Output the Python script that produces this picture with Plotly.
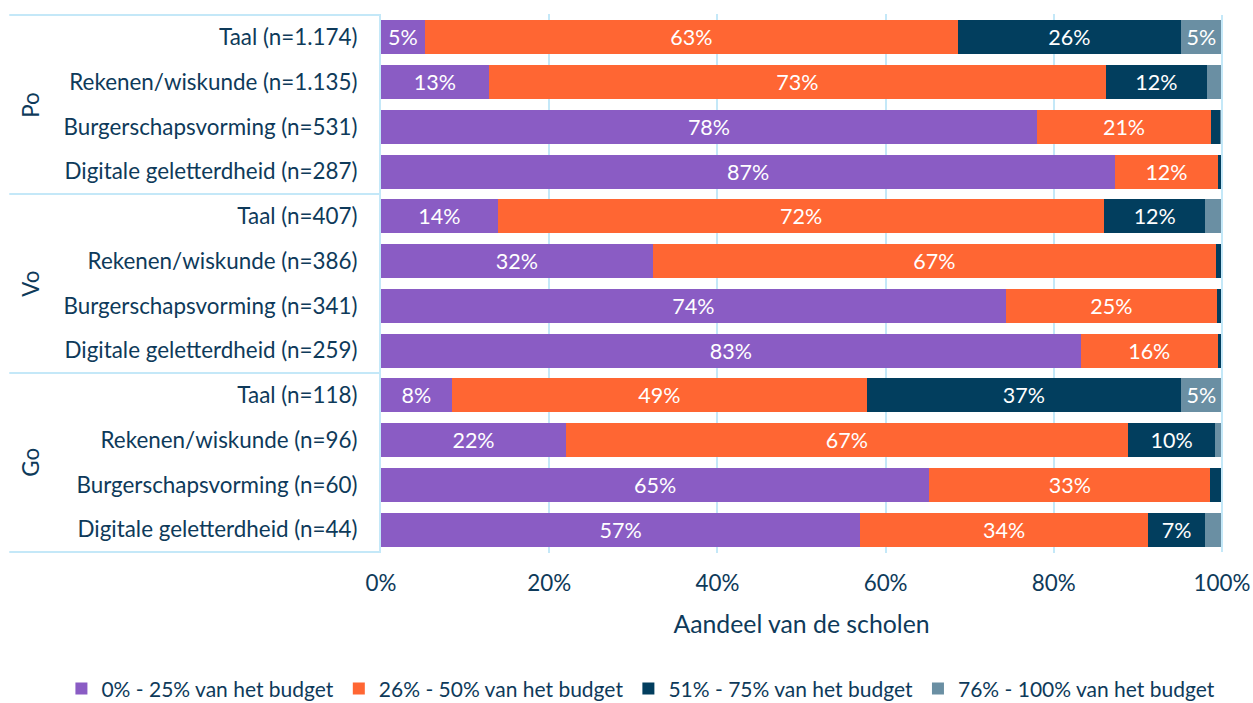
import plotly.graph_objects as go

groups = ["Po", "Vo", "Go"]
categories = [
    "Taal (n=1.174)", "Rekenen/wiskunde (n=1.135)", "Burgerschapsvorming (n=531)", "Digitale geletterdheid (n=287)",
    "Taal (n=407)", "Rekenen/wiskunde (n=386)", "Burgerschapsvorming (n=341)", "Digitale geletterdheid (n=259)",
    "Taal (n=118)", "Rekenen/wiskunde (n=96)", "Burgerschapsvorming (n=60)", "Digitale geletterdheid (n=44)",
]
series_names = ["0% - 25% van het budget", "26% - 50% van het budget",
                "51% - 75% van het budget", "76% - 100% van het budget"]
s1 = [5.2, 12.8, 78.0, 87.3, 13.9, 32.3, 74.3, 83.2, 8.4, 22.0, 65.2, 57.0]
s2 = [63.4, 73.4, 20.7, 12.2, 72.1, 67.0, 25.1, 16.3, 49.4, 66.8, 33.4, 34.2]
s3 = [26.5, 12.0, 1.1, 0.5, 12.0, 0.7, 0.6, 0.5, 37.3, 10.4, 1.4, 6.8]
s4 = [4.9, 1.8, 0.2, 0.0, 2.0, 0.0, 0.0, 0.0, 4.9, 0.8, 0.0, 2.0]
tick_vals = [0, 20, 40, 60, 80, 100]
tick_text = ["0%", "20%", "40%", "60%", "80%", "100%"]

colors = ["#8A5CC4", "#FF6633", "#023E5E", "#6A8FA3"]
text_col = "#0E3A5A"
line_col = "#C4E8F8"
font_family = "Lato"

fig = go.Figure()
for name, vals, col in zip(series_names, [s1, s2, s3, s4], colors):
    fig.add_trace(go.Bar(
        y=categories, x=vals, name=name, orientation="h",
        marker=dict(color=col, line=dict(width=0)),
        text=[f"{round(v)}%" if v >= 4 else "" for v in vals],
        textposition="inside", insidetextanchor="middle", textangle=0,
        textfont=dict(color="white", size=21.5, family=font_family),
        hoverinfo="x+y+name",
    ))

shapes = []
n_per = 4
bounds = [-0.5 + i * n_per for i in range(len(groups) + 1)]
for b in bounds:
    shapes.append(dict(type="line", xref="paper", yref="y", x0=-0.442, x1=0, y0=b, y1=b,
                       line=dict(color=line_col, width=2)))
shapes.append(dict(type="line", xref="paper", yref="y", x0=1, x1=1, y0=bounds[0], y1=bounds[-1],
                   line=dict(color=line_col, width=2)))

annotations = []
for i, g in enumerate(groups):
    center = i * n_per + (n_per - 1) / 2
    annotations.append(dict(text=g, xref="paper", yref="y", x=-0.417, y=center,
                            xanchor="center", yanchor="middle",
                            showarrow=False, textangle=-90,
                            font=dict(size=22.4, color=text_col, family=font_family)))

fig.update_layout(
    barmode="stack", bargap=0.24,
    width=1253, height=703,
    margin=dict(l=381, r=31, t=14, b=150, autoexpand=False),
    paper_bgcolor="white", plot_bgcolor="white",
    font=dict(family=font_family, color=text_col, size=22),
    showlegend=True,
    legend=dict(orientation="h", xref="paper", x=-0.380, xanchor="left",
                yref="paper", y=-0.252, yanchor="middle",
                font=dict(size=21, color=text_col), itemwidth=30, traceorder="normal",
                tracegroupgap=0),
    xaxis=dict(range=[0, 100], tickvals=tick_vals, ticktext=tick_text, automargin=False,
               showgrid=True, gridcolor=line_col, gridwidth=1.5, zeroline=False,
               showline=False, ticks="", ticklabelstandoff=15, tickfont=dict(size=22.4, color=text_col),
               title=dict(text="Aandeel van de scholen", font=dict(size=24.8, color=text_col), standoff=20)),
    yaxis=dict(autorange="reversed", showgrid=False, showline=True, linecolor=line_col, linewidth=2,
               automargin=False, ticks="", ticklabelstandoff=17, tickfont=dict(size=22.4, color=text_col)),
    shapes=shapes, annotations=annotations,
)
fig.write_html("out.html", config={"displayModeBar": False},
               post_script="document.body.style.margin='0';document.body.style.padding='0';")
